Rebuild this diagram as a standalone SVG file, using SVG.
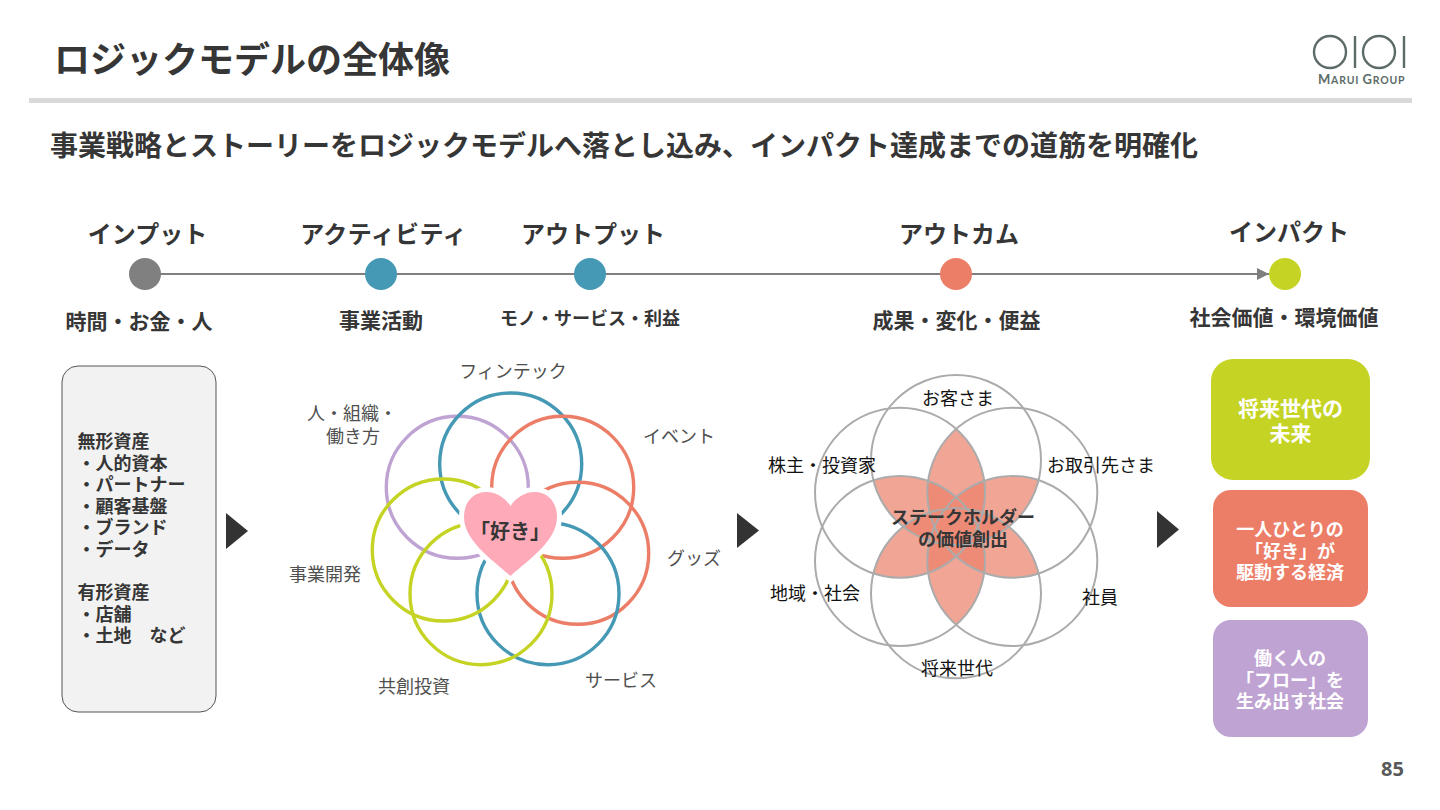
<svg xmlns="http://www.w3.org/2000/svg" xmlns:xlink="http://www.w3.org/1999/xlink" width="1440" height="810" viewBox="0 0 1440 810">
<style>
text{font-family:"Noto Sans CJK JP","Noto Sans",sans-serif;fill:#363636}
.m{text-anchor:middle}
.b{font-weight:700}
.h{font-size:24px;font-weight:700;text-anchor:middle}
.s{font-size:21px;font-weight:700;text-anchor:middle}
.l{font-size:18px;text-anchor:middle;fill:#4f4f4f}
.k{font-size:18px;text-anchor:middle;fill:#111}
.a{font-size:18px;font-weight:700}
.w{font-size:18px;font-weight:700;fill:#fff;text-anchor:middle}
.r{fill:none;stroke-width:3.4}
.g{fill:none;stroke:#ababab;stroke-width:2}
.tri{fill:#333}
.logo{fill:none;stroke:#5c6b69;stroke-width:2.4}
</style>
<defs>
<marker id="ah" markerUnits="userSpaceOnUse" markerWidth="13" markerHeight="12" refX="12" refY="6" orient="auto"><path d="M0 0L12 6L0 12Z" fill="#7f7f7f"/></marker>
<circle id="C0" cx="956" cy="460" r="85"/>
<circle id="C1" cx="1012.3" cy="492.7" r="85"/>
<circle id="C2" cx="1012.3" cy="561" r="85"/>
<circle id="C3" cx="956" cy="593.3" r="85"/>
<circle id="C4" cx="900" cy="561" r="85"/>
<circle id="C5" cx="900" cy="492.7" r="85"/>
<clipPath id="c0"><use href="#C0"/></clipPath>
<clipPath id="c1"><use href="#C1"/></clipPath>
<clipPath id="c2"><use href="#C2"/></clipPath>
<clipPath id="c3"><use href="#C3"/></clipPath>
<clipPath id="c4"><use href="#C4"/></clipPath>
<clipPath id="c5"><use href="#C5"/></clipPath>
<clipPath id="p0" clip-path="url(#c2)"><use href="#C0"/></clipPath>
<clipPath id="p1" clip-path="url(#c3)"><use href="#C1"/></clipPath>
<clipPath id="p2" clip-path="url(#c4)"><use href="#C2"/></clipPath>
<clipPath id="p3" clip-path="url(#c5)"><use href="#C3"/></clipPath>
<clipPath id="p4" clip-path="url(#c0)"><use href="#C4"/></clipPath>
<clipPath id="p5" clip-path="url(#c1)"><use href="#C5"/></clipPath>
<rect id="all" x="780" y="350" width="360" height="360"/>
</defs>
<rect width="1440" height="810" fill="#fff"/>

<g id="header">
<text x="54" y="73" font-size="36" class="b">ロジックモデルの全体像</text>
<rect x="29" y="98" width="1383" height="5" fill="#d9d9d9"/>
<text x="50" y="156" font-size="28" class="b">事業戦略とストーリーをロジックモデルへ落とし込み、インパクト達成までの道筋を明確化</text>
</g>
<g id="logo">
<circle class="logo" cx="1330" cy="52" r="16"/>
<path class="logo" d="M1355 36V68"/>
<circle class="logo" cx="1379" cy="52" r="16"/>
<path class="logo" d="M1404 36V68"/>
<text x="1318" y="84" style="font-family:'Lato',sans-serif;fill:#5c6b69;font-weight:700" font-size="10.5" letter-spacing=".8"><tspan font-size="13">M</tspan>ARUI <tspan font-size="13">G</tspan>ROUP</text>
</g>

<g id="connectors">
<path d="M145 274H1269" stroke="#7f7f7f" stroke-width="1.8" fill="none" marker-end="url(#ah)"/>
<path class="tri" d="M226 513L248 531L226 549Z"/>
<path class="tri" d="M737 513L759 530.5L737 548Z"/>
<path class="tri" d="M1157 511L1179 529.5L1157 548Z"/>
</g>

<g id="step-input"><text class="h" x="147.500" y="243">インプット</text><circle cx="145" cy="274" r="16" fill="#808080"/><text class="s" x="139" y="329">時間・お金・人</text></g>
<g id="step-activity"><text class="h" x="383.500" y="243" letter-spacing=".4">アクティビティ</text><circle cx="381" cy="274" r="16" fill="#4699b5"/><text class="s" x="381" y="328">事業活動</text></g>
<g id="step-output"><text class="h" x="593" y="243">アウトプット</text><circle cx="590" cy="274" r="16" fill="#4699b5"/><text class="m b" font-size="18" x="590" y="325">モノ・サービス・利益</text></g>
<g id="step-outcome"><text class="h" x="959" y="243">アウトカム</text><circle cx="956" cy="274" r="16" fill="#ec7d67"/><text class="s" x="956.500" y="328">成果・変化・便益</text></g>
<g id="step-impact"><text class="h" x="1289" y="241">インパクト</text><circle cx="1285" cy="274" r="16" fill="#c5d424"/><text class="s" x="1284" y="325">社会価値・環境価値</text></g>

<g id="assets">
<rect x="62" y="366" width="154" height="346" rx="16" fill="#f2f2f2" stroke="#555" stroke-width="1"/>
<text class="a" x="77.500" y="448">無形資産</text>
<text class="a" x="77.500" y="470">・人的資本</text>
<text class="a" x="77.500" y="491">・パートナー</text>
<text class="a" x="77.500" y="513">・顧客基盤</text>
<text class="a" x="77.500" y="534">・ブランド</text>
<text class="a" x="77.500" y="556">・データ</text>
<text class="a" x="77.500" y="599">有形資産</text>
<text class="a" x="77.500" y="621">・店舗</text>
<text class="a" x="77.500" y="642">・土地　など</text>
</g>

<g id="suki-flower">
<circle class="r" cx="457.300" cy="487.300" r="71" stroke="#bfa3d3"/>
<circle class="r" cx="510.700" cy="464" r="71" stroke="#4699b5"/>
<circle class="r" cx="562.700" cy="487.300" r="71" stroke="#ec7d67"/>
<circle class="r" cx="577.700" cy="553.300" r="71" stroke="#ec7d67"/>
<circle class="r" cx="548" cy="593.700" r="71" stroke="#4699b5"/>
<circle class="r" cx="481" cy="593.700" r="71" stroke="#c5d424"/>
<circle class="r" cx="443.300" cy="550" r="71" stroke="#c5d424"/>
<path d="M510.500 506C504 496 494 491.500 485 492C472 493 464 503 464 517C464 540 490 558 510.500 576C531 558 557 540 557 517C557 503 549 493 536 492C527 491.500 517 496 510.500 506Z" fill="#ffaab8" stroke="#fff" stroke-width="10" paint-order="stroke"/>
<text class="m b" font-size="20" x="510" y="539">「好き」</text>
<text class="l" x="513" y="378">フィンテック</text>
<text class="l" x="352" y="420">人・組織・</text>
<text class="l" x="353" y="443">働き方</text>
<text class="l" x="679" y="443">イベント</text>
<text class="l" x="694" y="565">グッズ</text>
<text class="l" x="621" y="687">サービス</text>
<text class="l" x="414" y="693">共創投資</text>
<text class="l" x="325" y="581">事業開発</text>
</g>

<g id="stakeholder-flower">
<g fill="#f0a595">
<use href="#all" clip-path="url(#p0)"/><use href="#all" clip-path="url(#p1)"/><use href="#all" clip-path="url(#p2)"/>
<use href="#all" clip-path="url(#p3)"/><use href="#all" clip-path="url(#p4)"/><use href="#all" clip-path="url(#p5)"/>
</g>
<g fill="#ee8b76">
<g clip-path="url(#p0)"><use href="#all" clip-path="url(#p1)"/><use href="#all" clip-path="url(#p2)"/><use href="#all" clip-path="url(#p3)"/></g>
<g clip-path="url(#p1)"><use href="#all" clip-path="url(#p2)"/><use href="#all" clip-path="url(#p3)"/><use href="#all" clip-path="url(#p4)"/></g>
<g clip-path="url(#p2)"><use href="#all" clip-path="url(#p3)"/><use href="#all" clip-path="url(#p4)"/><use href="#all" clip-path="url(#p5)"/></g>
<g clip-path="url(#p3)"><use href="#all" clip-path="url(#p4)"/><use href="#all" clip-path="url(#p5)"/><use href="#all" clip-path="url(#p0)"/></g>
<g clip-path="url(#p4)"><use href="#all" clip-path="url(#p5)"/><use href="#all" clip-path="url(#p0)"/></g>
<g clip-path="url(#p5)"><use href="#all" clip-path="url(#p0)"/></g>
</g>
<use class="g" href="#C0"/><use class="g" href="#C1"/><use class="g" href="#C2"/>
<use class="g" href="#C3"/><use class="g" href="#C4"/><use class="g" href="#C5"/>
<text class="k" x="958" y="405">お客さま</text>
<text class="k" x="822" y="472">株主・投資家</text>
<text class="k" x="1101" y="472">お取引先さま</text>
<text class="k" x="815" y="600">地域・社会</text>
<text class="k" x="1100" y="604">社員</text>
<text class="k" x="957" y="675">将来世代</text>
<text class="m b" font-size="18" x="963" y="524">ステークホルダー</text>
<text class="m b" font-size="18" x="963" y="546">の価値創出</text>
</g>

<g id="impact-future">
<rect x="1211" y="359" width="159" height="121" rx="22" fill="#c5d424"/>
<text class="w" style="font-size:21px" x="1290.500" y="416">将来世代の</text>
<text class="w" style="font-size:21px" x="1290.500" y="441">未来</text>
</g>
<g id="impact-economy">
<rect x="1213" y="490" width="155" height="117" rx="18" fill="#ec7d67"/>
<text class="w" x="1290" y="536">一人ひとりの</text>
<text class="w" x="1290" y="558">「好き」が</text>
<text class="w" x="1290" y="579">駆動する経済</text>
</g>
<g id="impact-society">
<rect x="1213" y="620" width="155" height="117" rx="18" fill="#bfa3d3"/>
<text class="w" x="1290" y="665">働く人の</text>
<text class="w" x="1290" y="687">「フロー」を</text>
<text class="w" x="1290" y="708">生み出す社会</text>
</g>
<text id="page" x="1404" y="776" font-size="20" class="b" text-anchor="end" style="fill:#595959;font-family:'Noto Sans',sans-serif">85</text>
</svg>
